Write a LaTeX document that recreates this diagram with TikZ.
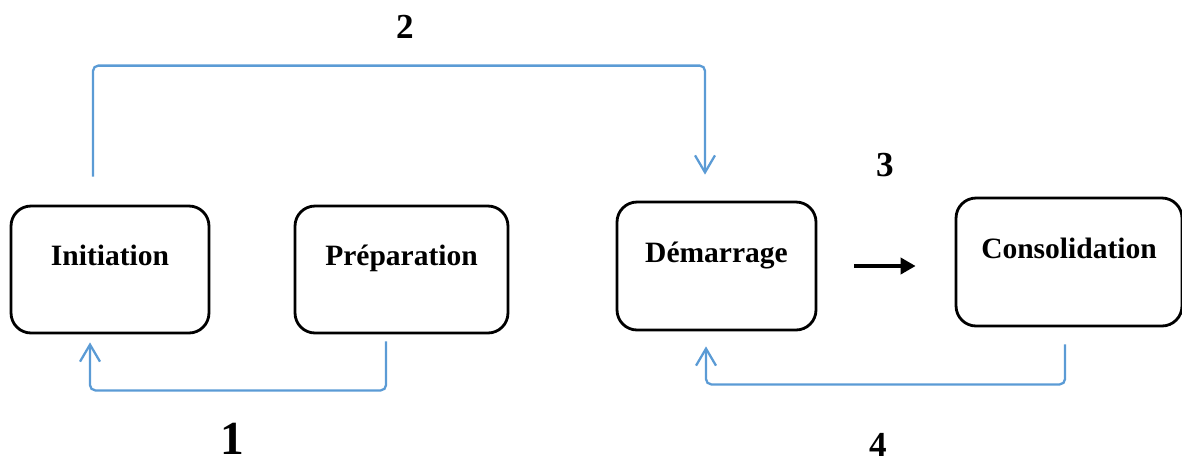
\documentclass[tikz,border=0pt]{standalone}
\usepackage{fontspec}
\setmainfont{Liberation Serif}
\usetikzlibrary{arrows.meta}

\definecolor{flowblue}{RGB}{91,155,213}

\tikzset{
    stage/.style={draw, line width=1.6pt, rounded corners=0.4cm, text height=12pt, text depth=16pt,
        font=\bfseries\fontsize{16.8}{20}\selectfont},
    backflow/.style={draw=flowblue, line width=1.3pt, rounded corners=3pt,
        -{Straight Barb[length=0.34cm, width=0.4cm, line width=1.3pt]}},
    forward/.style={line width=2.2pt, -{Triangle[length=0.3cm, width=0.32cm]}},
    step num/.style={font=\bfseries\fontsize{20}{24}\selectfont}
}

\begin{document}
\begin{tikzpicture}[x=0.02cm, y=-0.02cm]
        \useasboundingbox (0, 0) rectangle (1182, 464);

        \node (init) at (110, 269.5) [stage, minimum width=3.96cm, minimum height=2.54cm] {Initiation};
        \node (prep) at (401.5, 269.5) [stage, minimum width=4.26cm, minimum height=2.54cm] {Préparation};
        \node (dem) at (716.5, 266) [stage, minimum width=3.98cm, minimum height=2.56cm] {Démarrage};
        \node (cons) at (1069, 262) [stage, minimum width=4.52cm, minimum height=2.56cm] {Consolidation};

        \draw [backflow] ([xshift=-0.31cm]prep.south) ++(0, 7) -- ++(0, 49) -| ([xshift=-0.4cm, yshift=-0.16cm]init.south);
        \draw [backflow] ([xshift=-0.34cm]init.north) ++(0, -28) -- ++(0, -111) -| ([xshift=-0.23cm, yshift=0.52cm]dem.north);
        \draw [forward] ([xshift=0.74cm]dem.east) -- ([xshift=-0.78cm]dem.east -| cons.west);
        \draw [backflow] ([xshift=-0.08cm]cons.south) ++(0, 17) -- ++(0, 40) -| ([xshift=-0.21cm, yshift=-0.3cm]dem.south);

        \node (n1) at (232, 454) [step num, anchor=base, inner sep=0pt, font=\bfseries\fontsize{27}{30}\selectfont] {1};
        \node (n2) at (405, 27) [step num] {2};
        \node (n3) at (885, 165) [step num] {3};
        \node (n4) at (878, 445) [step num] {4};
    \end{tikzpicture}
\end{document}
